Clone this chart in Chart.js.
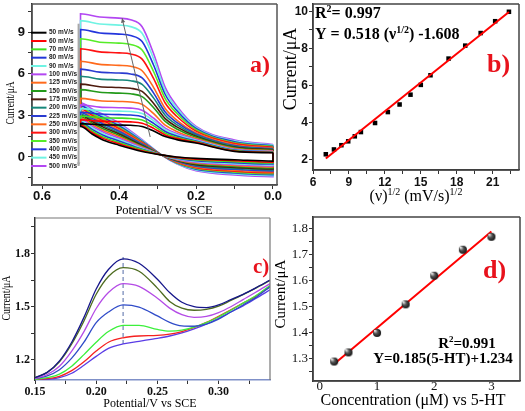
<!DOCTYPE html>
<html>
<head>
<meta charset="utf-8">
<script src="https://cdn.jsdelivr.net/npm/chart.js@4.4.1/dist/chart.umd.min.js"></script>
<style>
  html, body { margin: 0; padding: 0; background: #fff; }
  body { width: 525px; height: 411px; position: relative; overflow: hidden; }
  canvas { position: absolute; }
</style>
</head>
<body>
<canvas id="cvA" width="285" height="217" style="left:0;top:0"></canvas>
<canvas id="cvB" width="245" height="210" style="left:280px;top:0"></canvas>
<canvas id="cvC" width="285" height="201" style="left:0;top:210px"></canvas>
<canvas id="cvD" width="255" height="201" style="left:270px;top:210px"></canvas>
<script>
// ---------- panel a: CVs at different scan rates ----------
const scanRates = ['50 mV/s', '60 mV/s', '70 mV/s', '80 mV/s', '90 mV/s', '100 mV/s', '125 mV/s', '150 mV/s', '175 mV/s',
    '200 mV/s', '225 mV/s', '250 mV/s', '300 mV/s', '350 mV/s', '400 mV/s', '450 mV/s', '500 mV/s'];
const scanColors = ['#000000', '#ff0000', '#3fe020', '#2236d8', '#6ff3e3', '#b347f2', '#ff6a1c', '#239a1a', '#4d1a0d',
    '#16877a', '#2a3bd0', '#ff6a1c', '#ff1212', '#56ec27', '#2335dc', '#6ff3e3', '#b347f2'];

// forward sweep (0.0 -> 0.5 V)
const cvFwdX = [0.00, 0.10, 0.20, 0.25, 0.28, 0.31, 0.34, 0.37, 0.40, 0.45, 0.50];
const cvFwd = [
    [0.30, 0.40, 1.00, 1.25, 1.47, 1.87, 2.20, 2.28, 2.30, 2.32, 2.40],
    [0.32, 0.43, 1.05, 1.34, 1.59, 2.06, 2.43, 2.53, 2.55, 2.58, 2.68],
    [0.34, 0.46, 1.10, 1.42, 1.71, 2.24, 2.66, 2.77, 2.80, 2.83, 2.95],
    [0.36, 0.49, 1.15, 1.51, 1.83, 2.42, 2.90, 3.02, 3.05, 3.09, 3.22],
    [0.38, 0.52, 1.20, 1.60, 1.96, 2.61, 3.13, 3.27, 3.30, 3.34, 3.48],
    [0.40, 0.55, 1.25, 1.69, 2.08, 2.79, 3.37, 3.52, 3.55, 3.59, 3.75],
    [0.44, 0.60, 1.33, 1.84, 2.29, 3.12, 3.79, 3.96, 4.00, 4.05, 4.22],
    [0.48, 0.66, 1.42, 2.02, 2.56, 3.55, 4.35, 4.55, 4.60, 4.66, 4.85],
    [0.52, 0.71, 1.50, 2.17, 2.76, 3.85, 4.72, 4.95, 5.00, 5.06, 5.25],
    [0.56, 0.77, 1.58, 2.33, 3.01, 4.24, 5.23, 5.49, 5.55, 5.61, 5.82],
    [0.60, 0.82, 1.66, 2.49, 3.24, 4.60, 5.70, 5.98, 6.05, 6.11, 6.33],
    [0.64, 0.88, 1.74, 2.66, 3.49, 5.00, 6.21, 6.53, 6.60, 6.67, 6.90],
    [0.70, 0.96, 1.86, 2.93, 3.89, 5.64, 7.05, 7.42, 7.50, 7.57, 7.80],
    [0.76, 1.03, 1.96, 3.15, 4.21, 6.14, 7.70, 8.11, 8.20, 8.27, 8.52],
    [0.81, 1.10, 2.05, 3.34, 4.50, 6.61, 8.31, 8.75, 8.85, 8.93, 9.18],
    [0.86, 1.16, 2.13, 3.53, 4.78, 7.07, 8.91, 9.39, 9.50, 9.58, 9.82],
    [0.90, 1.22, 2.20, 3.68, 5.01, 7.43, 9.38, 9.88, 10.00, 10.08, 10.32]
];
// reverse sweep (0.5 -> 0.0 V)
const cvRevX = [0.50, 0.47, 0.44, 0.40, 0.34, 0.29, 0.25, 0.20, 0.10, 0.00];
const cvRev = [
    [2.20, 1.65, 1.20, 0.85, 0.40, 0.15, 0.00, -0.10, -0.20, -0.30],
    [2.30, 1.76, 1.32, 0.95, 0.45, 0.15, -0.03, -0.16, -0.27, -0.37],
    [2.40, 1.88, 1.43, 1.05, 0.51, 0.15, -0.06, -0.21, -0.34, -0.44],
    [2.50, 1.99, 1.55, 1.15, 0.56, 0.15, -0.09, -0.27, -0.41, -0.51],
    [2.60, 2.10, 1.66, 1.25, 0.61, 0.15, -0.13, -0.33, -0.48, -0.58],
    [2.70, 2.21, 1.78, 1.35, 0.67, 0.15, -0.16, -0.38, -0.54, -0.65],
    [2.80, 2.33, 1.89, 1.45, 0.72, 0.15, -0.19, -0.44, -0.61, -0.72],
    [2.90, 2.44, 2.01, 1.55, 0.77, 0.15, -0.22, -0.49, -0.68, -0.79],
    [3.00, 2.55, 2.13, 1.65, 0.83, 0.15, -0.25, -0.55, -0.75, -0.86],
    [3.10, 2.66, 2.24, 1.75, 0.88, 0.15, -0.28, -0.61, -0.82, -0.93],
    [3.20, 2.78, 2.36, 1.85, 0.93, 0.15, -0.31, -0.66, -0.89, -1.00],
    [3.30, 2.89, 2.47, 1.95, 0.98, 0.15, -0.34, -0.72, -0.96, -1.07],
    [3.45, 3.00, 2.59, 2.05, 1.04, 0.15, -0.38, -0.78, -1.03, -1.14],
    [3.55, 3.11, 2.70, 2.15, 1.09, 0.15, -0.41, -0.83, -1.09, -1.21],
    [3.70, 3.23, 2.82, 2.25, 1.14, 0.15, -0.44, -0.89, -1.16, -1.28],
    [3.80, 3.34, 2.93, 2.35, 1.20, 0.15, -0.47, -0.94, -1.23, -1.35],
    [3.90, 3.45, 3.05, 2.45, 1.25, 0.15, -0.50, -1.00, -1.30, -1.42]
];
// arrows drawn on panel a, in data units [x, y]
const cvArrows = [
    { from: [0.505, 9.6], to: [0.505, -0.65], color: '#a8a8a8', width: 2, head: 4 },
    { from: [0.319, 1.44], to: [0.392, 10.0], color: '#666666', width: 1, head: 5 }
];

// ---------- panel b: peak current vs sqrt(scan rate) ----------
const sqrtScanRate = [7.07, 7.75, 8.37, 8.94, 9.49, 10.0, 11.18, 12.25, 13.23, 14.14, 15.0, 15.81, 17.32, 18.71, 20.0, 21.21, 22.36];
const peakCurrent = [2.28, 2.54, 2.77, 2.98, 3.25, 3.48, 3.97, 4.56, 4.97, 5.50, 6.03, 6.55, 7.45, 8.15, 8.83, 9.47, 9.98];
const bFitX = [7.07, 22.36];
const bFitY = [2.05, 9.97];

// ---------- panel c: DPVs at increasing 5-HT ----------
const dpvX = [0.15, 0.16, 0.17, 0.18, 0.19, 0.20, 0.21, 0.222, 0.235, 0.25, 0.26, 0.27, 0.28, 0.29, 0.30, 0.31, 0.32, 0.33, 0.342];
const dpvCurves = [
    [1.100, 1.130, 1.195, 1.300, 1.440, 1.600, 1.710, 1.770, 1.745, 1.655, 1.580, 1.525, 1.500, 1.495, 1.510, 1.540, 1.570, 1.605, 1.650],
    [1.100, 1.130, 1.190, 1.290, 1.420, 1.570, 1.670, 1.720, 1.700, 1.605, 1.530, 1.492, 1.480, 1.485, 1.503, 1.535, 1.568, 1.603, 1.648],
    [1.095, 1.118, 1.165, 1.250, 1.360, 1.490, 1.580, 1.630, 1.615, 1.548, 1.492, 1.455, 1.440, 1.445, 1.467, 1.500, 1.540, 1.580, 1.630],
    [1.095, 1.110, 1.145, 1.210, 1.300, 1.410, 1.470, 1.510, 1.498, 1.448, 1.412, 1.392, 1.390, 1.402, 1.430, 1.470, 1.510, 1.550, 1.612],
    [1.090, 1.100, 1.120, 1.165, 1.230, 1.300, 1.360, 1.395, 1.395, 1.372, 1.363, 1.368, 1.385, 1.410, 1.442, 1.480, 1.520, 1.560, 1.620],
    [1.090, 1.095, 1.108, 1.140, 1.190, 1.250, 1.300, 1.325, 1.335, 1.338, 1.345, 1.360, 1.383, 1.412, 1.446, 1.482, 1.520, 1.557, 1.615],
    [1.088, 1.090, 1.100, 1.125, 1.170, 1.220, 1.265, 1.290, 1.305, 1.322, 1.335, 1.352, 1.375, 1.402, 1.435, 1.470, 1.505, 1.545, 1.595]
];
const dpvColors = ['#16168a', '#4d6b1f', '#b44be6', '#2f4bc8', '#3cf03c', '#f52020', '#5a3ce6'];
const dpvPeakPotential = 0.222;
const dpvPeakRange = [1.29, 1.78];

// ---------- panel d: calibration ----------
const concentration = [0.25, 0.5, 1.0, 1.5, 2.0, 2.5, 3.0];
const dCurrent = [1.29, 1.325, 1.40, 1.51, 1.62, 1.72, 1.77];
const dFitX = [0.25, 3.0];
const dFitY = [1.28, 1.79];

// ---------- helpers ----------
const SANS = '"Liberation Sans", Arial, sans-serif';
const SERIF = '"Liberation Serif", "Times New Roman", serif';
const RED = '#e8121c';
Chart.defaults.font.family = SERIF;

function onStep(v, step) {
    const r = v / step;
    return Math.abs(r - Math.round(r)) < 1e-6;
}

function axis(o) {
    return {
        type: 'linear', position: o.pos, min: o.min, max: o.max, reverse: !!o.reverse,
        afterFit: s => { if (o.pos === 'left') s.width = o.size; else s.height = o.size; },
        border: { display: true, color: o.color || '#333', width: 1.5 },
        grid: { drawOnChartArea: false, drawTicks: o.tickLen > 0, tickLength: o.tickLen, tickColor: '#333', tickWidth: 1 },
        ticks: {
            stepSize: o.minor, includeBounds: false, autoSkip: false, maxRotation: 0, minRotation: 0,
            maxTicksLimit: 100, padding: o.pad, color: '#111', font: o.font,
            callback: v => onStep(v, o.major) ? o.fmt(v) : ''
        }
    };
}

// box around the plot; sides: any of 'tlrb'
function framePlugin(color, width, sides = 'tlrb') {
    return {
        id: 'frame',
        afterDraw(chart) {
            const { ctx, chartArea: a } = chart;
            ctx.save();
            ctx.strokeStyle = color;
            ctx.lineWidth = width;
            ctx.beginPath();
            if (sides.includes('t')) { ctx.moveTo(a.left, a.top); ctx.lineTo(a.right, a.top); }
            if (sides.includes('r')) { ctx.moveTo(a.right, a.top); ctx.lineTo(a.right, a.bottom); }
            if (sides.includes('b')) { ctx.moveTo(a.left, a.bottom); ctx.lineTo(a.right, a.bottom); }
            if (sides.includes('l')) { ctx.moveTo(a.left, a.top); ctx.lineTo(a.left, a.bottom); }
            ctx.stroke();
            ctx.restore();
        }
    };
}

// text items: parts are [string, isSuperscript]
function textsPlugin(items) {
    return {
        id: 'texts',
        afterDraw(chart) {
            const ctx = chart.ctx;
            items.forEach(t => {
                const parts = typeof t.text === 'string' ? [[t.text, 0]] : t.text;
                const fontFor = sup => `${t.weight || 'normal'} ${sup ? Math.round(t.size * 0.62) : t.size}px ${t.family || SERIF}`;
                ctx.save();
                ctx.translate(t.x, t.y);
                if (t.rotate) ctx.rotate(t.rotate * Math.PI / 180);
                if (t.sx) ctx.scale(t.sx, 1);
                let total = 0;
                parts.forEach(([s, sup]) => { ctx.font = fontFor(sup); total += ctx.measureText(s).width; });
                let x = t.align === 'center' ? -total / 2 : (t.align === 'right' ? -total : 0);
                ctx.fillStyle = t.color || '#000';
                ctx.textBaseline = t.baseline || 'alphabetic';
                parts.forEach(([s, sup]) => {
                    ctx.font = fontFor(sup);
                    ctx.fillText(s, x, sup ? -t.size * 0.38 : 0);
                    x += ctx.measureText(s).width;
                });
                ctx.restore();
            });
        }
    };
}

function arrowsPlugin(list) {
    return {
        id: 'arrows',
        afterDatasetsDraw(chart) {
            const { ctx, scales: { x, y } } = chart;
            list.forEach(a => {
                const x1 = x.getPixelForValue(a.from[0]), y1 = y.getPixelForValue(a.from[1]);
                const x2 = x.getPixelForValue(a.to[0]), y2 = y.getPixelForValue(a.to[1]);
                const ang = Math.atan2(y2 - y1, x2 - x1);
                ctx.save();
                ctx.strokeStyle = a.color;
                ctx.fillStyle = a.color;
                ctx.lineWidth = a.width;
                ctx.beginPath();
                ctx.moveTo(x1, y1);
                ctx.lineTo(x2, y2);
                ctx.stroke();
                ctx.beginPath();
                ctx.moveTo(x2, y2);
                ctx.lineTo(x2 - a.head * Math.cos(ang - 0.45), y2 - a.head * Math.sin(ang - 0.45));
                ctx.lineTo(x2 - a.head * Math.cos(ang + 0.45), y2 - a.head * Math.sin(ang + 0.45));
                ctx.closePath();
                ctx.fill();
                ctx.restore();
            });
        }
    };
}

function legendPlugin(o) {
    return {
        id: 'cvLegend',
        afterDraw(chart) {
            const ctx = chart.ctx;
            ctx.save();
            ctx.font = o.font;
            ctx.textBaseline = 'middle';
            ctx.fillStyle = '#222';
            chart.data.datasets.forEach((ds, i) => {
                const y = o.y + i * o.dy;
                ctx.strokeStyle = ds.borderColor;
                ctx.lineWidth = 2;
                ctx.beginPath();
                ctx.moveTo(o.x, y);
                ctx.lineTo(o.x + o.len, y);
                ctx.stroke();
                ctx.fillText(ds.label, o.x + o.len + o.gap, y);
            });
            ctx.restore();
        }
    };
}

// small shaded ball used as point style in panel d
function ball(r) {
    const c = document.createElement('canvas');
    c.width = c.height = 2 * r + 2;
    const g = c.getContext('2d');
    const grad = g.createRadialGradient(r - r * 0.35, r - r * 0.35, 0.5, r + 1, r + 1, r);
    grad.addColorStop(0, '#e8e8e8');
    grad.addColorStop(0.45, '#555');
    grad.addColorStop(1, '#111');
    g.fillStyle = grad;
    g.beginPath();
    g.arc(r + 1, r + 1, r, 0, Math.PI * 2);
    g.fill();
    return c;
}

const base = {
    responsive: false, animation: false, events: [],
    plugins: { legend: { display: false }, tooltip: { enabled: false } }
};
const boldSans = size => ({ family: SANS, size, weight: 'bold' });
const boldSansY = size => ({ family: SANS, size, weight: 'bold', lineHeight: 0.1 });

// ---------- chart a ----------
new Chart(document.getElementById('cvA'), {
    type: 'line',
    data: {
        datasets: scanRates.map((label, i) => ({
            label,
            borderColor: scanColors[i],
            borderWidth: 1.6,
            pointRadius: 0,
            fill: false,
            cubicInterpolationMode: 'monotone',
            data: [
                ...cvFwdX.map((x, j) => ({ x, y: cvFwd[i][j] })),
                ...cvRevX.map((x, j) => ({ x, y: cvRev[i][j] })),
                { x: cvFwdX[0], y: cvFwd[i][0] }
            ]
        }))
    },
    options: {
        ...base,
        layout: { padding: { left: 0, top: 4, right: 8, bottom: 2 } },
        scales: {
            x: axis({ pos: 'bottom', min: -0.0104, max: 0.626, reverse: true, minor: 0.1, major: 0.2,
                fmt: v => v.toFixed(1), font: boldSans(13), tickLen: 4, pad: 0, size: 30 }),
            y: axis({ pos: 'left', min: -2.02, max: 11.02, minor: 1.5, major: 3,
                fmt: v => String(Math.round(v)), font: boldSansY(13), tickLen: 4, pad: 3, size: 32 })
        }
    },
    plugins: [
        framePlugin('#555', 1.5),
        arrowsPlugin(cvArrows),
        legendPlugin({ x: 31, y: 32.7, dy: 8.33, len: 15.5, gap: 2.5, font: `bold 6.5px ${SANS}` }),
        textsPlugin([
            { text: 'Potential/V vs SCE', x: 164, y: 213.5, size: 12.5, align: 'center' },
            { text: 'Current/\u03bcA', x: 11, y: 103, size: 12, align: 'center', baseline: 'middle', rotate: -90, sx: 0.78 },
            { text: 'a)', x: 250, y: 72, size: 24, weight: 'bold', color: RED }
        ])
    ]
});

// ---------- chart b ----------
new Chart(document.getElementById('cvB'), {
    type: 'scatter',
    data: {
        datasets: [
            { data: bFitX.map((x, i) => ({ x, y: bFitY[i] })), showLine: true, borderColor: '#ff0000', borderWidth: 2, pointRadius: 0 },
            { data: sqrtScanRate.map((x, i) => ({ x, y: peakCurrent[i] })), pointStyle: 'rect', pointRadius: 3.2,
              backgroundColor: '#000', borderColor: '#000', borderWidth: 0 }
        ]
    },
    options: {
        ...base,
        layout: { padding: { left: 0, top: 3, right: 6, bottom: 0 } },
        scales: {
            x: axis({ pos: 'bottom', min: 6, max: 23.2, minor: 1.5, major: 3,
                fmt: v => String(Math.round(v)), font: boldSans(12), tickLen: 4, pad: 1, size: 40 }),
            y: axis({ pos: 'left', min: 1.43, max: 10.4, minor: 1, major: 2,
                fmt: v => String(Math.round(v)), font: boldSansY(12), tickLen: 4, pad: 1, size: 33 })
        }
    },
    plugins: [
        framePlugin('#444', 1.5),
        textsPlugin([
            { text: 'Current/\u03bcA', x: 11, y: 69, size: 18, align: 'center', baseline: 'middle', rotate: -90 },
            { text: [['(\u03bd)', 0], ['1/2', 1], [' (mV/s)', 0], ['1/2', 1]], x: 136, y: 201, size: 16, align: 'center' },
            { text: [['R', 0], ['2', 1], ['= 0.997', 0]], x: 35, y: 18, size: 16, weight: 'bold' },
            { text: [['Y = 0.518 (\u03bd', 0], ['1/2', 1], [') -1.608', 0]], x: 35, y: 39, size: 16, weight: 'bold' },
            { text: 'b)', x: 207, y: 72, size: 26, weight: 'bold', color: RED }
        ])
    ]
});

// ---------- chart c ----------
const boldSerif = size => ({ family: SERIF, size, weight: 'bold' });
const boldSerifY = size => ({ family: SERIF, size, weight: 'bold', lineHeight: 0.1 });
new Chart(document.getElementById('cvC'), {
    type: 'scatter',
    data: {
        datasets: [
            ...dpvCurves.map((c, i) => ({
                data: dpvX.map((x, j) => ({ x, y: c[j] })), showLine: true, borderColor: dpvColors[i],
                borderWidth: 1.3, pointRadius: 0, cubicInterpolationMode: 'monotone'
            })),
            { data: dpvPeakRange.map(y => ({ x: dpvPeakPotential, y })), showLine: true, borderColor: '#8c9cc4',
              borderWidth: 1.5, borderDash: [4, 3], pointRadius: 0 }
        ]
    },
    options: {
        ...base,
        layout: { padding: { left: 0, top: 8, right: 15, bottom: 0 } },
        scales: {
            x: axis({ pos: 'bottom', min: 0.15, max: 0.342, minor: 0.025, major: 0.05, color: '#7f90c8',
                fmt: v => v.toFixed(2), font: boldSerif(12), tickLen: 4, pad: 1, size: 31 }),
            y: axis({ pos: 'left', min: 1.087, max: 2.0, minor: 0.15, major: 0.3,
                fmt: v => v.toFixed(1), font: boldSerifY(12), tickLen: 4, pad: 1, size: 35 })
        }
    },
    plugins: [
        framePlugin('#777', 1.2, 'tr'),
        textsPlugin([
            { text: 'Current/\u03bcA', x: 7, y: 88, size: 13, align: 'center', baseline: 'middle', rotate: -90, sx: 0.75 },
            { text: 'Potential/V vs SCE', x: 150, y: 197, size: 12, align: 'center' },
            { text: 'c)', x: 253, y: 63, size: 21, weight: 'bold', color: RED }
        ])
    ]
});

// ---------- chart d ----------
const serif = size => ({ family: SERIF, size });
const serifY = size => ({ family: SERIF, size, lineHeight: 0.1 });
new Chart(document.getElementById('cvD'), {
    type: 'scatter',
    data: {
        datasets: [
            { data: concentration.map((x, i) => ({ x, y: dCurrent[i] })), pointStyle: ball(4), pointRadius: 4 },
            { data: dFitX.map((x, i) => ({ x, y: dFitY[i] })), showLine: true, borderColor: '#ff0000', borderWidth: 2, pointRadius: 0 }
        ]
    },
    options: {
        ...base,
        layout: { padding: { left: 0, top: 7, right: 2, bottom: 0 } },
        scales: {
            x: axis({ pos: 'bottom', min: -0.12, max: 3.5, minor: 0.5, major: 1,
                fmt: v => String(Math.round(v)), font: serif(13), tickLen: 0, pad: -2, size: 30 }),
            y: axis({ pos: 'left', min: 1.215, max: 1.846, minor: 0.05, major: 0.1,
                fmt: v => v.toFixed(1), font: serifY(13), tickLen: 4, pad: 1, size: 43 })
        }
    },
    plugins: [
        framePlugin('#444', 1.5),
        textsPlugin([
            { text: 'Current/\u03bcA', x: 11, y: 84, size: 15, align: 'center', baseline: 'middle', rotate: -90 },
            { text: 'Concentration (\u03bcM) vs 5-HT', x: 143, y: 195, size: 16, align: 'center' },
            { text: [['R', 0], ['2', 1], ['=0.991', 0]], x: 197, y: 138, size: 15, weight: 'bold', align: 'center' },
            { text: 'Y=0.185(5-HT)+1.234', x: 173, y: 153, size: 15, weight: 'bold', align: 'center' },
            { text: 'd)', x: 213, y: 68, size: 26, weight: 'bold', color: RED }
        ])
    ]
});
</script>
</body>
</html>
